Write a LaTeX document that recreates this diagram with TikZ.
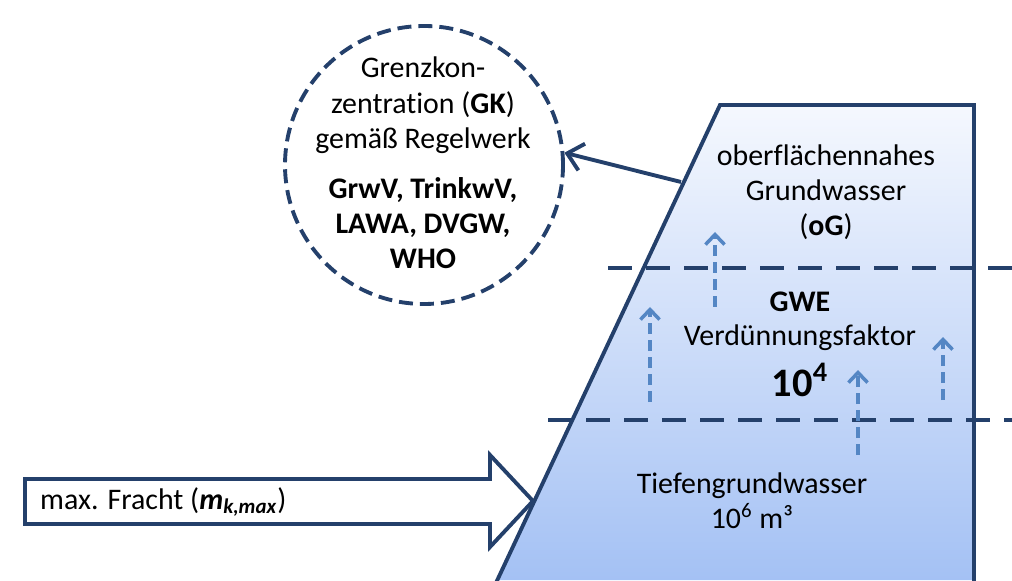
\documentclass[tikz,border=0pt]{standalone}
\usepackage{fontspec}
\setmainfont{Carlito}[Ligatures=NoCommon]
\usepackage{tikz}
\usetikzlibrary{arrows.meta}
\definecolor{rand}{RGB}{36,64,107}
\definecolor{pfeil}{RGB}{84,134,196}
\definecolor{gwoben}{RGB}{245,248,254}
\definecolor{gwunten}{RGB}{164,193,244}

\begin{document}
\begin{tikzpicture}[font=\fontsize{17}{20}\selectfont,
    grenze/.style={rand, line width=2.2pt, dash pattern=on 0.48cm off 0.28cm},
    aufstieg/.style={pfeil, line width=2pt, dash pattern=on 0.22cm off 0.12cm, -{Straight Barb[length=2mm,width=3.8mm]}}]
                \useasboundingbox (0,0) rectangle (20.24,11.6);
                \shade[top color=gwoben, bottom color=gwunten] (9.94,0) -- (14.4,9.5) -- (19.48,9.5) -- (19.48,0) -- cycle;
                \draw[grenze] (12.16,6.24) -- (20.4,6.24);
                \draw[grenze] (10.96,3.2) -- (20.4,3.2);
                \draw[rand, line width=2.2pt] (9.9,-0.1) -- (14.4,9.5) -- (19.48,9.5) -- (19.48,-0.1);
                \foreach \x/\ya/\yb in {14.3/5.46/6.96, 13.0/3.56/5.46, 17.16/2.5/4.2, 18.86/3.6/4.86}
                    \draw[aufstieg] (\x,\ya) -- (\x,\yb);
                \node[align=center] (og) at (16.52,7.76) {oberflächennahes\\Grundwasser\\(\textbf{oG})};
                \node (gwe) at (16,5.56) {\textbf{GWE}};
                \node (vf) at (16,4.84) {Verdünnungsfaktor};
                \node (faktor) at (16,4.0) {\fontsize{23}{26}\selectfont\textbf{10\textsuperscript{4}}};
                \node[align=center] (tgw) at (15.04,1.58) {Tiefengrundwasser\\10\textsuperscript{6} m³};
                \node[circle, draw=rand, line width=2.2pt, dash pattern=on 0.28cm off 0.14cm, minimum size=5.56cm] (gk) at (8.48,8.3) {};
                \node[align=center] (gktext) at (8.46,8.34) {Grenzkon-\\zentration (\textbf{GK})\\gemäß Regelwerk\\[0.3cm]\textbf{GrwV, TrinkwV,}\\\textbf{LAWA, DVGW,}\\\textbf{WHO}};
                \coordinate (ogrand) at (13.62,7.96);
                \draw[rand, line width=2.2pt, -{Straight Barb[length=3mm,width=5.5mm]}] (ogrand) -- (gk.5);
                \draw[rand, line width=2.2pt, fill=white] (0.5,1.12) -- (9.8,1.12) -- (9.8,0.66) -- (10.66,1.58) -- (9.8,2.5) -- (9.8,2.02) -- (0.5,2.02) -- cycle;
                \node[anchor=west] (fracht) at (0.68,1.56) {max. Fracht (\textbf{\textit{m}}\textsubscript{\textbf{\textit{k,max}}})};
            \end{tikzpicture}
\end{document}
